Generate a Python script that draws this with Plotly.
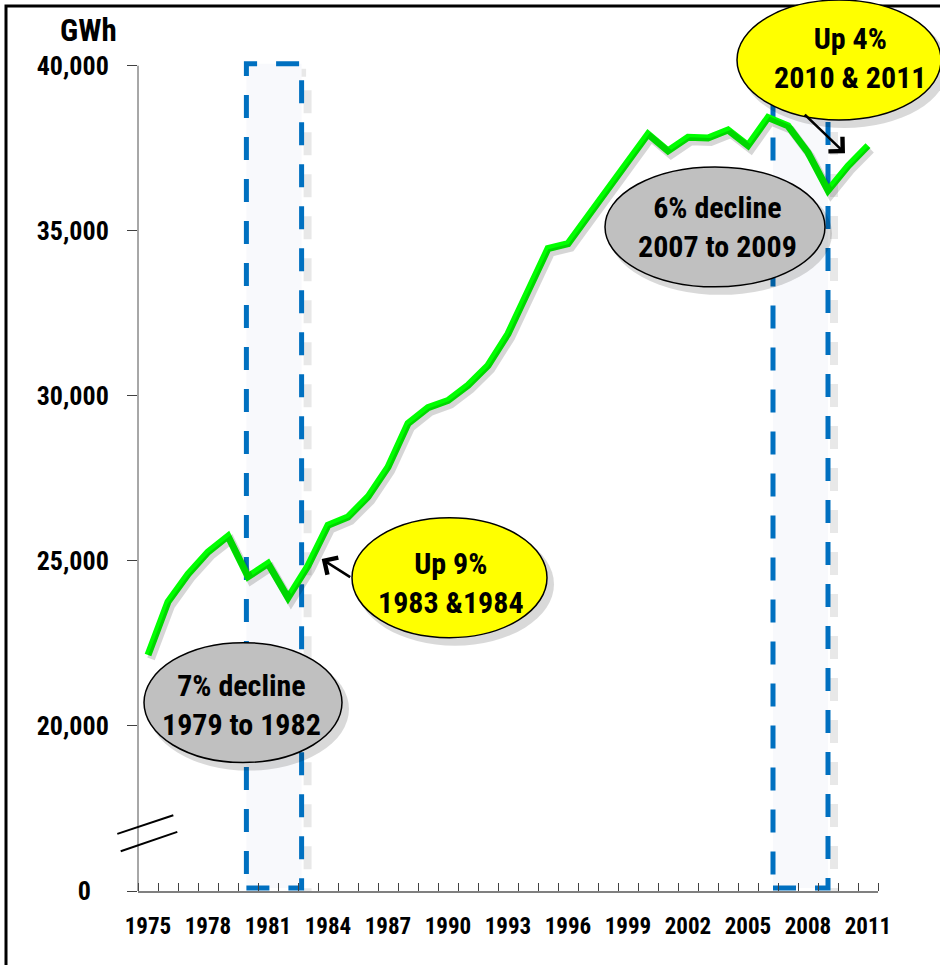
import plotly.graph_objects as go

# ---------------- data ----------------
years = list(range(1975, 2012))
gwh = [22150, 23760, 24600, 25270, 25750, 24520, 24920, 23880, 24850, 26080,
       26330, 26940, 27840, 29160, 29640, 29860, 30320, 30920, 31880, 33170,
       34460, 34610, 35460, 36310, 37120, 37930, 37420, 37830, 37810, 38050,
       37580, 38430, 38180, 37370, 36220, 36960, 37580]

# recession boxes (start year, end year)
box_start = [1979.92, 2006.25]
box_end = [1982.68, 2009.0]

y_tick_vals = [15000, 20000, 25000, 30000, 35000, 40000]
y_tick_text = ["0\u00a0\u00a0\u00a0", "20,000", "25,000", "30,000", "35,000", "40,000"]
x_label_years = list(range(1975, 2012, 3))

# ---------------- layout geometry ----------------
W, H = 940, 965
PL, PR, PB = 138, 878, 891.5
PX_TOP_TICK = 65.7          # pixel row of the top (40,000) tick
PT = 60                     # plot area top (a little room for the box outline)
XR = [1974.5, 2011.5]
px_per_year = (PR - PL) / (XR[1] - XR[0])
val_per_px = (40000 - 15000) / (PB - PX_TOP_TICK)
YR = [15000, 40000 + (PX_TOP_TICK - PT) * val_per_px]
BOX_TOP = 40000


def fx(x):
    return (x - PL) / (PR - PL)


def fy(y):
    return (PB - y) / (PB - PT)


FONT = ("Noto Sans Condensed, Roboto Condensed, DejaVu Sans Condensed, "
        "Liberation Sans Narrow, Liberation Sans, Arial, sans-serif")
S_YT, S_XT, S_CALL, S_UNIT = 26, 23, 30, 31

fig = go.Figure()

# line shadow (drawn on shifted hidden axes)
sdx, sdy = 3, 4
fig.add_trace(go.Scatter(x=years, y=gwh, mode="lines", xaxis="x2", yaxis="y2",
                         line=dict(color="rgba(0,0,0,0.16)", width=8),
                         hoverinfo="skip", showlegend=False))
fig.add_trace(go.Scatter(x=years, y=gwh, mode="lines",
                         line=dict(color="#00ff00", width=7),
                         showlegend=False))

shapes = []
# recession boxes with soft shadow
for s, e in zip(box_start, box_end):
    shapes.append(dict(type="rect", xref="x", yref="y", layer="below",
                       x0=s + 6 / px_per_year, x1=e + 6 / px_per_year,
                       y0=15000 - 7 * val_per_px, y1=BOX_TOP - 7 * val_per_px,
                       line=dict(color="rgba(0,0,0,0.09)", width=8, dash="23px,19px"),
                       fillcolor="rgba(0,0,0,0)"))
    shapes.append(dict(type="rect", xref="x", yref="y", layer="below",
                       x0=s, x1=e, y0=15000 + 3 * val_per_px, y1=BOX_TOP + 2 * val_per_px,
                       line=dict(color="#0070c0", width=5, dash="23px,19px"),
                       fillcolor="#f8f9fc"))

# y axis line from 0 to the 40,000 tick
shapes.append(dict(type="line", xref="paper", yref="paper", layer="above",
                   x0=0, x1=0, y0=0, y1=fy(PX_TOP_TICK),
                   line=dict(color="#505050", width=1)))

# outer frame
shapes.append(dict(type="rect", xref="paper", yref="paper", layer="above",
                   x0=fx(6), x1=fx(1200), y0=fy(6), y1=fy(1200),
                   line=dict(color="black", width=3), fillcolor="rgba(0,0,0,0)"))

# axis break marks
for (x0, y0, x1, y1) in [(117.3, 834.3, 173.3, 815.7), (120.7, 851.7, 177.3, 832.3)]:
    shapes.append(dict(type="line", xref="paper", yref="paper", layer="above",
                       x0=fx(x0), y0=fy(y0), x1=fx(x1), y1=fy(y1),
                       line=dict(color="black", width=2)))

# callout ellipses
ellipses = [
    # cx, cy, rx, ry, fill, text, tx, ty
    (243, 703, 99, 60, "#c0c0c0", "7% decline<br>1979 to 1982", 241, 705),
    (449.5, 578, 97.5, 60, "#ffff00", "Up 9%<br>1983 &1984", 451, 583),
    (715, 227, 110, 60, "#c0c0c0", "6% decline<br>2007 to 2009", 717, 227),
    (839, 60, 102, 60, "#ffff00", "Up 4%<br>2010 & 2011", 850, 58),
]
annotations = []
for cx, cy, rx, ry, fill, txt, tx, ty in ellipses:
    shapes.append(dict(type="circle", xref="paper", yref="paper", layer="above",
                       x0=fx(cx - rx + 4), x1=fx(cx + rx + 7), y0=fy(cy - ry + 5), y1=fy(cy + ry + 8),
                       line=dict(width=0), fillcolor="rgba(0,0,0,0.15)"))
    shapes.append(dict(type="circle", xref="paper", yref="paper", layer="above",
                       x0=fx(cx - rx), x1=fx(cx + rx), y0=fy(cy - ry), y1=fy(cy + ry),
                       line=dict(color="black", width=1.5), fillcolor=fill))
    annotations.append(dict(xref="paper", yref="paper", x=fx(tx), y=fy(ty),
                            text=txt, showarrow=False, xanchor="center", yanchor="middle",
                            font=dict(family=FONT, size=S_CALL, color="black", weight="bold")))

# arrows
for hx, hy, tx, ty in [(321.7, 559.3, 351.7, 578.3), (845, 153.3, 803.3, 113.3)]:
    annotations.append(dict(xref="paper", yref="paper", x=fx(hx), y=fy(hy), text="",
                            showarrow=True, ax=tx - hx, ay=ty - hy, arrowhead=4,
                            arrowsize=1.5, arrowwidth=2.6, arrowcolor="black", standoff=0))

# unit label
annotations.append(dict(xref="paper", yref="paper", x=fx(88), y=fy(30), text="GWh",
                        showarrow=False, xanchor="center", yanchor="middle",
                        font=dict(family=FONT, size=S_UNIT, color="black", weight="bold")))

fig.update_layout(
    width=W, height=H,
    margin=dict(l=PL, r=W - PR, t=PT, b=H - PB, pad=0, autoexpand=False),
    paper_bgcolor="white", plot_bgcolor="white",
    showlegend=False,
    shapes=shapes, annotations=annotations,
    xaxis=dict(range=XR, showgrid=False, zeroline=False, automargin=False,
               showline=True, linecolor="#808080", linewidth=2,
               tickmode="array", tickvals=x_label_years, ticks="", tickangle=0,
               ticklabelstandoff=13,
               tickfont=dict(family=FONT, size=S_XT, color="black", weight="bold"),
               minor=dict(tickmode="array", tickvals=[y - 0.5 for y in years] + [years[-1] + 0.5],
                          ticks="inside", ticklen=8, tickwidth=1, tickcolor="#404040",
                          showgrid=False)),
    yaxis=dict(range=YR, showgrid=False, zeroline=False, automargin=False,
               showline=False,
               tickmode="array", tickvals=y_tick_vals, ticktext=y_tick_text,
               ticks="outside", ticklen=10, tickcolor="#404040", tickwidth=1,
               ticklabelstandoff=13,
               tickfont=dict(family=FONT, size=S_YT, color="black", weight="bold")),
    xaxis2=dict(overlaying="x", visible=False, automargin=False,
                range=[XR[0] - sdx / px_per_year, XR[1] - sdx / px_per_year]),
    yaxis2=dict(overlaying="y", visible=False, automargin=False,
                range=[YR[0] + sdy * val_per_px, YR[1] + sdy * val_per_px]),
)

fig.write_html("out.html")
